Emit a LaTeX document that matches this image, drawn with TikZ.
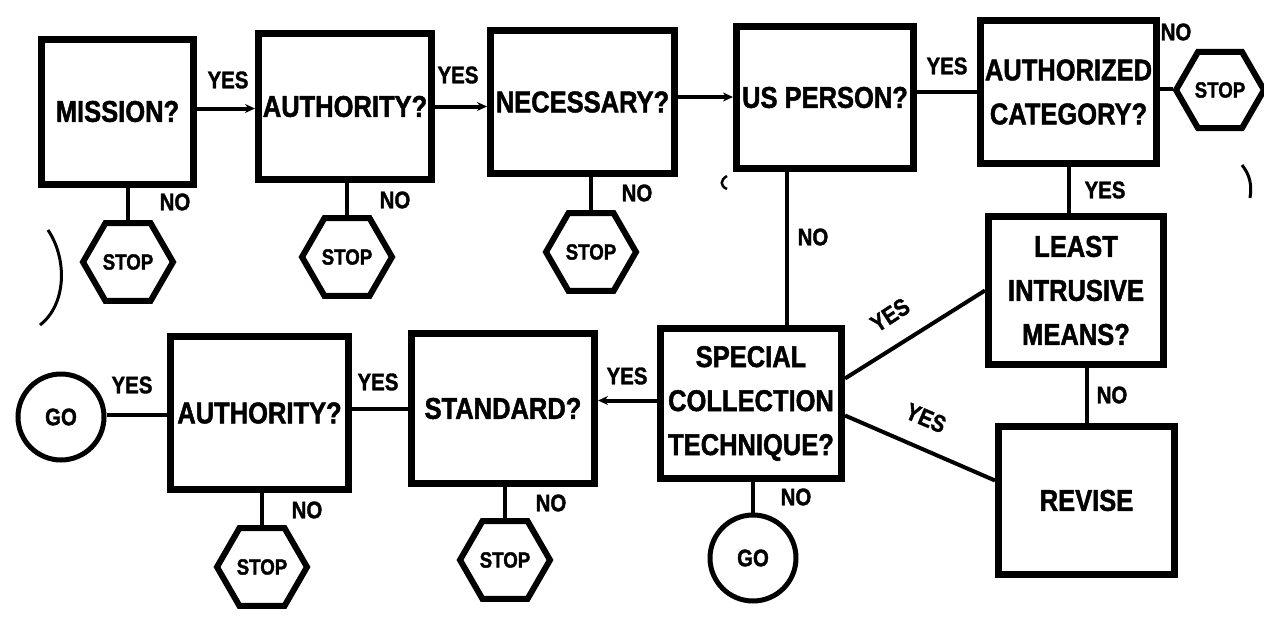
\documentclass[tikz,border=0pt]{standalone}
\usepackage{fontspec}
\setmainfont{Liberation Sans}[FakeStretch=0.85, BoldFeatures={FakeBold=1.5}]
\usetikzlibrary{shapes.geometric,arrows.meta}
\tikzset{
  box/.style={draw, line width=7pt, align=center, inner sep=2pt,
    font=\bfseries\fontsize{30}{44}\selectfont},
  stopsign/.style={draw, regular polygon, regular polygon sides=6, line width=6pt,
    minimum size=90pt, inner sep=0pt, font=\bfseries\fontsize{22}{24}\selectfont},
  gonode/.style={draw, circle, line width=5pt, minimum size=86pt, inner sep=0pt,
    font=\bfseries\fontsize{24}{24}\selectfont},
  conn/.style={line width=4pt},
  flow/.style={conn, -{Stealth[length=10pt,width=9pt]}},
  lbl/.style={font=\bfseries\fontsize{24}{24}\selectfont, inner sep=0pt},
  scanmark/.style={line width=3pt}
}
\begin{document}
\begin{tikzpicture}[x=1pt,y=-1pt]
\useasboundingbox (0,0) rectangle (1264,616);
% top row
\node[box, minimum width=152pt, minimum height=145pt] (mission) at (117.5,111.5) {MISSION?};
\node[box, minimum width=173pt, minimum height=146pt] (auth1) at (345,106.5) {AUTHORITY?};
\node[box, minimum width=184pt, minimum height=143pt] (nec) at (582.5,102) {NECESSARY?};
\node[box, minimum width=177pt, minimum height=142pt] (us) at (825,97.5) {US PERSON?};
\node[box, minimum width=176pt, minimum height=143pt] (cat) at (1068.5,92) {AUTHORIZED\\CATEGORY?};
\node[stopsign, minimum size=88pt] (stopR) at (1220,90) {STOP};
% right column
\node[box, minimum width=175pt, minimum height=148pt] (least) at (1076,290.5) {LEAST\\INTRUSIVE\\MEANS?};
\node[box, minimum width=176pt, minimum height=148pt] (revise) at (1086.5,500.5) {REVISE};
% bottom row
\node[box, minimum width=181pt, minimum height=150pt] (special) at (751,403.5) {SPECIAL\\COLLECTION\\TECHNIQUE?};
\node[box, minimum width=183pt, minimum height=150pt] (std) at (503,408.5) {STANDARD?};
\node[box, minimum width=178pt, minimum height=153pt] (auth2) at (259.5,413) {AUTHORITY?};
\node[gonode] (go1) at (61,417) {GO};
\node[gonode] (go2) at (753,558) {GO};
% stop signs below
\node[stopsign] (s1) at (128,262) {STOP};
\node[stopsign] (s2) at (347,257) {STOP};
\node[stopsign] (s3) at (591,252) {STOP};
\node[stopsign] (s4) at (262,567) {STOP};
\node[stopsign] (s5) at (505,560) {STOP};

% connectors top row
\draw[flow] ([yshift=3pt]mission.east) -- ([yshift=3pt]mission.east -| auth1.west);
\draw[flow] (auth1.east) -- (auth1.east -| nec.west);
\draw[flow] ([yshift=5pt]nec.east) -- ([yshift=5pt]nec.east -| us.west);
\draw[conn] (cat.west -| us.east) -- (cat.west);
\draw[conn] ([yshift=3pt]cat.east) -- ([yshift=3pt]cat.east -| stopR.west);
\draw[conn] (cat.south) -- (cat.south |- least.north);
\draw[conn] ([xshift=-38pt]us.south) -- ([xshift=-38pt]us.south |- special.north);
\draw[conn] ([yshift=25pt]special.east) -- (least.west);
\draw[conn] ([yshift=-12pt]special.east) -- ([yshift=20pt]revise.west);
\draw[conn] (revise.north |- least.south) -- (revise.north);
% bottom row
\draw[flow] ([yshift=3pt]special.west) -- ([yshift=3pt]special.west -| std.east);
\draw[conn] (std.west) -- (std.west -| auth2.east);
\draw[conn] ([yshift=-2pt]auth2.west) -- ([yshift=-2pt]auth2.west -| go1.east);
% to stops
\draw[conn] (s1.north |- mission.south) -- (s1.north);
\draw[conn] (s2.north |- auth1.south) -- (s2.north);
\draw[conn] (s3.north |- nec.south) -- (s3.north);
\draw[conn] (s4.north |- auth2.south) -- (s4.north);
\draw[conn] (s5.north |- std.south) -- (s5.north);
\draw[conn] (go2.north |- special.south) -- (go2.north);

% labels
\node[lbl] (l1) at (228,80) {YES};
\node[lbl] (l2) at (458,75) {YES};
\node[lbl] (l3) at (947,66) {YES};
\node[lbl] (l4) at (1176,32) {NO};
\node[lbl] (l5) at (1105,190) {YES};
\node[lbl] (l6) at (813,237) {NO};
\node[lbl, rotate=33] (l7) at (890,315) {YES};
\node[lbl, rotate=-23] (l8) at (926,418) {YES};
\node[lbl] (l9) at (1112,395) {NO};
\node[lbl] (l10) at (627,376) {YES};
\node[lbl] (l11) at (378,382) {YES};
\node[lbl] (l12) at (132,385) {YES};
\node[lbl] (l13) at (175,202) {NO};
\node[lbl] (l14) at (395,200) {NO};
\node[lbl] (l15) at (637,193) {NO};
\node[lbl] (l16) at (307,510) {NO};
\node[lbl] (l17) at (551,503) {NO};
\node[lbl] (l18) at (796,497) {NO};

% stray marks of the scan
\draw[scanmark] (48,230) .. controls (68,260) and (66,305) .. (40,325);
\draw[scanmark] (1242,165) .. controls (1250,175) and (1252,185) .. (1250,198);
\draw[line width=2.5pt] (727,176) .. controls (720,180) and (720,186) .. (727,189);
\end{tikzpicture}
\end{document}
